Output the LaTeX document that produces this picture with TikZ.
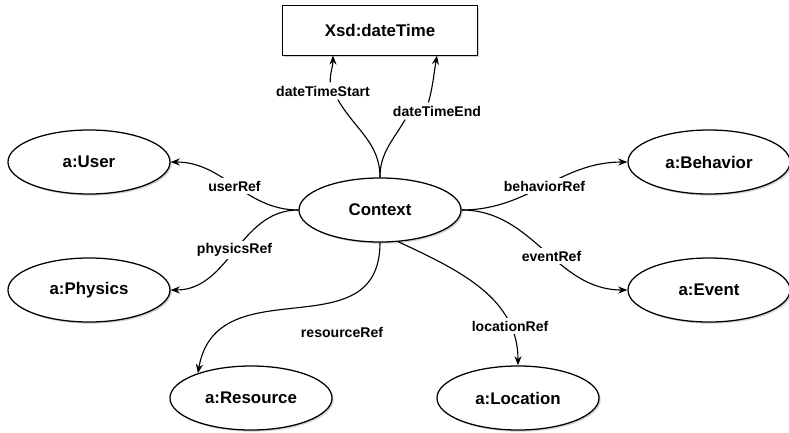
\documentclass[tikz,border=0pt]{standalone}
\usepackage{fontspec}
\setmainfont{Liberation Sans}
\usetikzlibrary{arrows,arrows.meta,positioning,shapes.geometric,shadows,calc}

\tikzset{
  cls/.style={ellipse,draw,fill=white,line width=0.9pt,inner sep=0pt,
    minimum width=4.05cm,minimum height=1.6cm,
    font=\fontsize{12}{14}\selectfont\bfseries,
    drop shadow={shadow xshift=1.2pt,shadow yshift=-1.2pt,opacity=0.35}},
  dtype/.style={rectangle,draw,fill=white,line width=0.7pt,
    minimum width=4.875cm,minimum height=1.25cm,
    font=\fontsize{12}{14}\selectfont\bfseries,
    drop shadow={shadow xshift=1.2pt,shadow yshift=-1.2pt,opacity=0.35}},
  lbl/.style={fill=white,inner sep=2pt,font=\fontsize{10}{12}\selectfont\bfseries}
}

\begin{document}
\begin{tikzpicture}[x=0.025cm,y=-0.025cm,->,>={Stealth[length=6.5pt,width=5pt]},line width=0.8pt]
      \useasboundingbox (0,0) rectangle (789,433);
      \node[cls] (Ctx)  at (380,210) {Context};
      \node[dtype] (Xsd) at (380,30) {Xsd:dateTime};
      \node[cls] (User) at (89,162)  {a:User};
      \node[cls] (Phys) at (89,290)  {a:Physics};
      \node[cls] (Beh)  at (709,162) {a:Behavior};
      \node[cls] (Evt)  at (709,290) {a:Event};
      \node[cls] (Res)  at (251,398) {a:Resource};
      \node[cls] (Loc)  at (518,398) {a:Location};
      % labels off the edges
      \node[lbl] (dts) at (323,91)  {dateTimeStart};
      \node[lbl] (dte) at (437,111) {dateTimeEnd};
      \node[lbl] (rRef) at (342,332) {resourceRef};
      \path (Ctx) edge[out=180,in=0] node[lbl] (uRef) {userRef} (User)
      (Ctx) edge[out=180,in=0] node[lbl] (pRef) {physicsRef} (Phys)
      (Ctx) edge[out=0,in=180] node[lbl] (bRef) {behaviorRef} (Beh)
      (Ctx) edge[out=0,in=180] node[lbl,pos=0.55] (eRef) {eventRef} (Evt)
      (Ctx.-60) edge[out=-25,in=90] node[lbl,pos=0.78] (lRef) {locationRef} (Loc)
      (Ctx.south) edge[out=-90,in=80,looseness=1.25] (Res.155);
      \path (Ctx.north) edge[-,out=90,in=-60] (dts.-30)
      (dts.50) edge[out=90,in=-90] ($(Xsd.south)+(-47,0)$)
      (Ctx.north) edge[-,out=90,in=-120] (dte.-165)
      (dte.135) edge[out=75,in=-100] ($(Xsd.south)+(57,0)$);
    \end{tikzpicture}
\end{document}
